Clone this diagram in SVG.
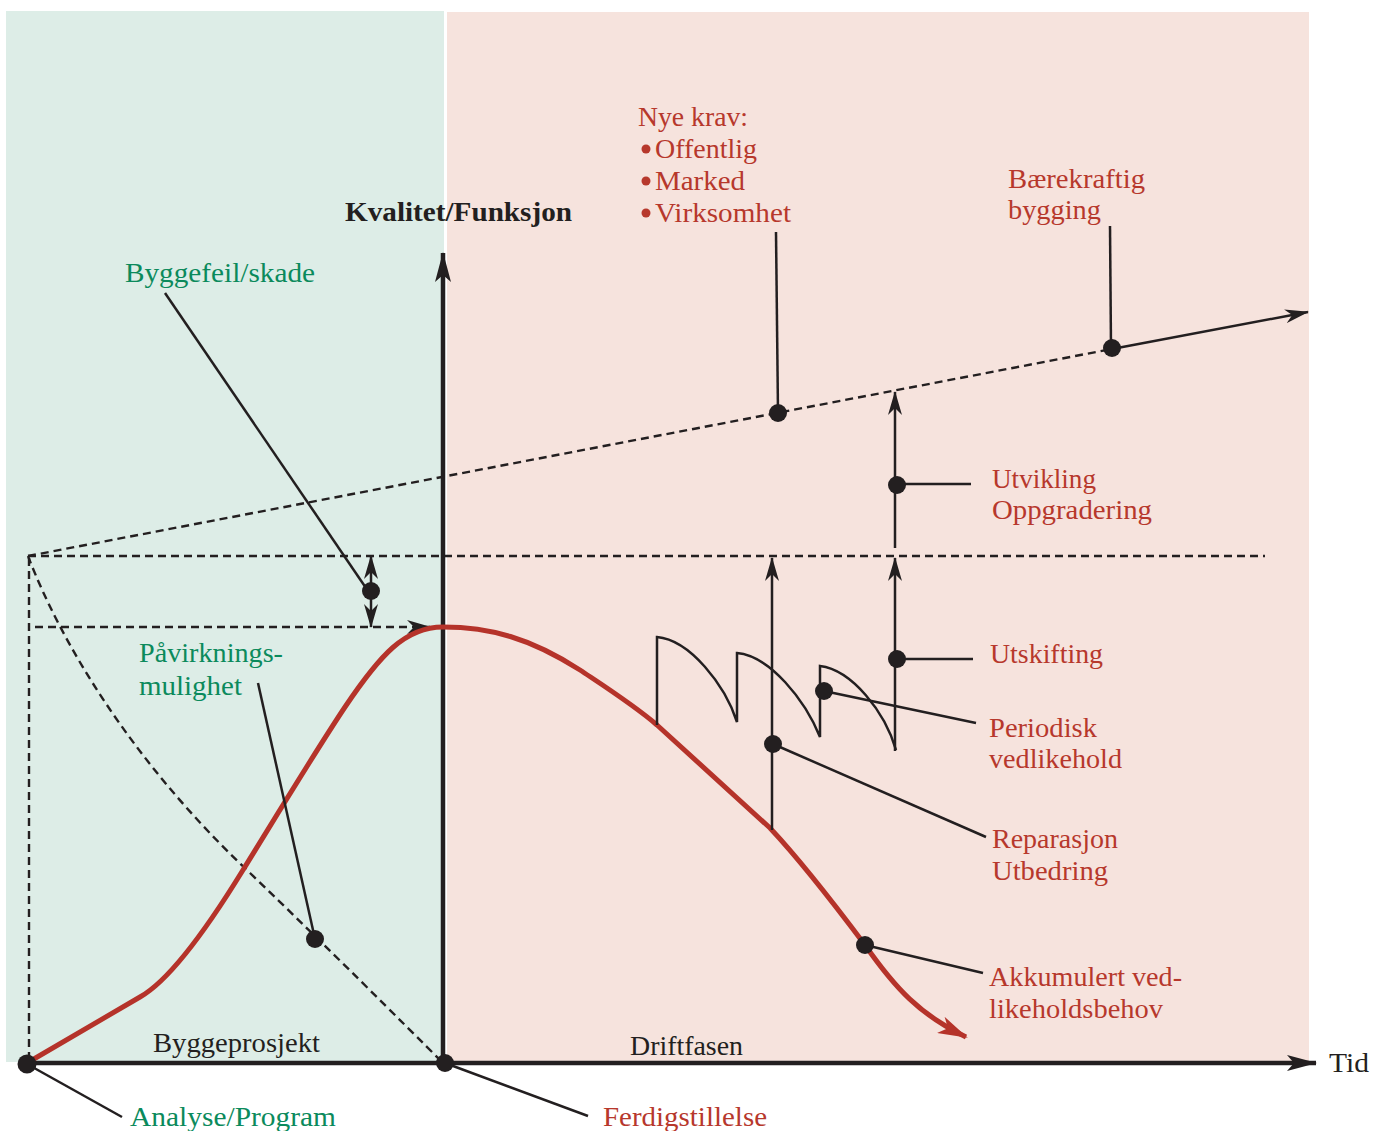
<svg xmlns="http://www.w3.org/2000/svg" width="1374" height="1131" viewBox="0 0 1374 1131">
<style>
.t{font-family:"Liberation Serif","Times New Roman",serif;font-size:27px}
.r{fill:#b7382c}
.g{fill:#0b8a5c}
.k{fill:#231f20}
.b{font-weight:bold}
.ln{stroke:#231f20;stroke-width:2.5;fill:none}
.ds{stroke:#231f20;stroke-width:2.4;fill:none;stroke-dasharray:8 5}
.ax{stroke:#231f20;stroke-width:4.5;fill:none}
.dot{fill:#231f20}
.red{stroke:#b5332a;stroke-width:5;fill:none}
</style>
<defs>
<marker id="ah" viewBox="0 0 24 14" refX="23" refY="7" markerWidth="24" markerHeight="14" markerUnits="userSpaceOnUse" orient="auto-start-reverse">
<path d="M0,0 L24,7 L0,14 L7,7 z" fill="#231f20"/>
</marker>
<marker id="ahx" viewBox="0 0 30 16" refX="29" refY="8" markerWidth="30" markerHeight="16" markerUnits="userSpaceOnUse" orient="auto">
<path d="M0,0 L30,8 L0,16 L7,8 z" fill="#231f20"/>
</marker>
<marker id="ahr" viewBox="0 0 30 18" refX="28" refY="9" markerWidth="30" markerHeight="18" markerUnits="userSpaceOnUse" orient="auto">
<path d="M0,0 L30,9 L0,18 L8,9 z" fill="#b5332a"/>
</marker>
</defs>
<g id="background">
<rect x="6" y="11" width="438" height="1051" fill="#ddede7"/>
<rect x="447" y="12" width="862" height="1049" fill="#f6e3dd"/>
</g>
<g id="connectors">
<line class="ds" x1="28" y1="556" x2="1112" y2="349"/>
<line class="ln" x1="1112" y1="349" x2="1308" y2="312" marker-end="url(#ah)"/>
<line class="ds" x1="28" y1="556" x2="1265" y2="556"/>
<line class="ds" x1="35" y1="627" x2="430" y2="627" marker-end="url(#ah)"/>
<line class="ds" x1="29" y1="558" x2="29" y2="1062"/>
<path class="ds" d="M28,556 C60,640 130,760 250,873 C330,950 400,1020 443,1063"/>
<line class="ln" x1="371" y1="556" x2="371" y2="627" marker-start="url(#ah)" marker-end="url(#ah)"/>
<line class="ax" x1="443" y1="1063" x2="443" y2="253" marker-end="url(#ahx)"/>
<line class="ax" x1="27" y1="1063" x2="1316" y2="1063" marker-end="url(#ahx)"/>
<path class="red" d="M27,1063 L140,997 C165,983 200,940 243,870 C280,810 315,752 345,707 C380,655 405,627 443,627 C490,627 530,638 580,670 C610,690 635,706 657,725 L770,828 C800,860 835,905 865,945 C895,988 920,1015 966,1037" marker-end="url(#ahr)"/>
<path class="ln" d="M657,725 L657,637 C690,640 725,685 737,722 L737,653 C770,656 805,700 820,737 L820,666 C852,670 885,712 896,750"/>
<line class="ln" x1="772" y1="830" x2="772" y2="558" marker-end="url(#ah)"/>
<line class="ln" x1="895" y1="751" x2="895" y2="558" marker-end="url(#ah)"/>
<line class="ln" x1="895" y1="548" x2="895" y2="392" marker-end="url(#ah)"/>
<line class="ln" x1="165" y1="293" x2="366" y2="588"/>
<line class="ln" x1="258" y1="683" x2="315" y2="939"/>
<line class="ln" x1="776" y1="232" x2="778" y2="413"/>
<line class="ln" x1="1110" y1="226" x2="1111" y2="348"/>
<line class="ln" x1="897" y1="484" x2="971" y2="484"/>
<line class="ln" x1="897" y1="659" x2="973" y2="659"/>
<line class="ln" x1="824" y1="691" x2="976" y2="723"/>
<line class="ln" x1="773" y1="744" x2="986" y2="837"/>
<line class="ln" x1="865" y1="945" x2="983" y2="973"/>
<line class="ln" x1="27" y1="1064" x2="122" y2="1117"/>
<line class="ln" x1="445" y1="1063" x2="588" y2="1116"/>
</g>
<g id="dots">
<circle class="dot" cx="371" cy="591" r="9"/>
<circle class="dot" cx="315" cy="939" r="9"/>
<circle class="dot" cx="778" cy="413" r="9"/>
<circle class="dot" cx="1112" cy="348" r="9"/>
<circle class="dot" cx="897" cy="485" r="9"/>
<circle class="dot" cx="897" cy="659" r="9"/>
<circle class="dot" cx="824" cy="691" r="9"/>
<circle class="dot" cx="773" cy="744" r="9"/>
<circle class="dot" cx="865" cy="945" r="9"/>
<circle class="dot" cx="27" cy="1064" r="9.5"/>
<circle class="dot" cx="445" cy="1063" r="9"/>
</g>
<g id="axis-labels">
<text class="t k b" x="345" y="221" textLength="227" lengthAdjust="spacingAndGlyphs">Kvalitet/Funksjon</text>
<text class="t k" x="1329" y="1072" textLength="40" lengthAdjust="spacingAndGlyphs">Tid</text>
<text class="t k" x="153" y="1052" textLength="167" lengthAdjust="spacingAndGlyphs">Byggeprosjekt</text>
<text class="t k" x="630" y="1055" textLength="113" lengthAdjust="spacingAndGlyphs">Driftfasen</text>
</g>
<g id="node-byggefeil">
<text class="t g" x="125" y="282" textLength="190" lengthAdjust="spacingAndGlyphs">Byggefeil/skade</text>
</g>
<g id="node-pavirkning">
<text class="t g" x="139" y="662" textLength="144" lengthAdjust="spacingAndGlyphs">Påvirknings-</text>
<text class="t g" x="139" y="695" textLength="103" lengthAdjust="spacingAndGlyphs">mulighet</text>
</g>
<g id="node-nyekrav">
<text class="t r" x="638" y="126" textLength="110" lengthAdjust="spacingAndGlyphs">Nye krav:</text>
<circle cx="646" cy="149" r="4.5" fill="#b7382c"/>
<text class="t r" x="655" y="158" textLength="102" lengthAdjust="spacingAndGlyphs">Offentlig</text>
<circle cx="646" cy="181" r="4.5" fill="#b7382c"/>
<text class="t r" x="655" y="190" textLength="90" lengthAdjust="spacingAndGlyphs">Marked</text>
<circle cx="646" cy="213" r="4.5" fill="#b7382c"/>
<text class="t r" x="655" y="222" textLength="136" lengthAdjust="spacingAndGlyphs">Virksomhet</text>
</g>
<g id="node-baerekraftig">
<text class="t r" x="1008" y="188" textLength="137" lengthAdjust="spacingAndGlyphs">Bærekraftig</text>
<text class="t r" x="1008" y="219" textLength="93" lengthAdjust="spacingAndGlyphs">bygging</text>
</g>
<g id="node-utvikling">
<text class="t r" x="992" y="488" textLength="104" lengthAdjust="spacingAndGlyphs">Utvikling</text>
<text class="t r" x="992" y="519" textLength="160" lengthAdjust="spacingAndGlyphs">Oppgradering</text>
</g>
<g id="node-utskifting">
<text class="t r" x="990" y="663" textLength="113" lengthAdjust="spacingAndGlyphs">Utskifting</text>
</g>
<g id="node-periodisk">
<text class="t r" x="989" y="737" textLength="108" lengthAdjust="spacingAndGlyphs">Periodisk</text>
<text class="t r" x="989" y="768" textLength="133" lengthAdjust="spacingAndGlyphs">vedlikehold</text>
</g>
<g id="node-reparasjon">
<text class="t r" x="992" y="848" textLength="126" lengthAdjust="spacingAndGlyphs">Reparasjon</text>
<text class="t r" x="992" y="880" textLength="116" lengthAdjust="spacingAndGlyphs">Utbedring</text>
</g>
<g id="node-akkumulert">
<text class="t r" x="989" y="986" textLength="193" lengthAdjust="spacingAndGlyphs">Akkumulert ved-</text>
<text class="t r" x="989" y="1018" textLength="174" lengthAdjust="spacingAndGlyphs">likeholdsbehov</text>
</g>
<g id="node-analyse">
<text class="t g" x="130" y="1126" textLength="206" lengthAdjust="spacingAndGlyphs">Analyse/Program</text>
</g>
<g id="node-ferdig">
<text class="t r" x="603" y="1126" textLength="164" lengthAdjust="spacingAndGlyphs">Ferdigstillelse</text>
</g>
</svg>
